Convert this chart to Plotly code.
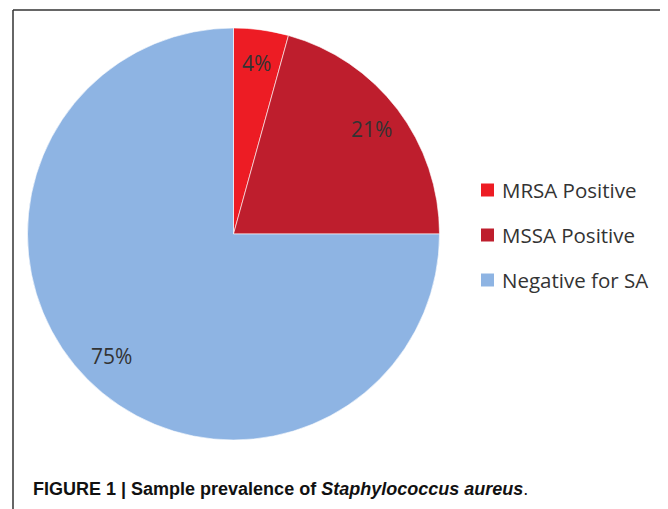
import math
import plotly.graph_objects as go

categories = ["MRSA Positive", "MSSA Positive", "Negative for SA"]
values = [4.3, 20.7, 75.0]
colors = ["#ED1C24", "#BE1E2D", "#8EB4E3"]

# page body has an 8px margin; work in window pixels and convert
OFF = 8
W, H = 668 - OFF, 509 - OFF


def px_x(x):
    return (x - OFF) / W


def px_y(y):
    return 1 - (y - OFF) / H


cx, cy, R = 233.5, 234.0, 206.0

fig = go.Figure()
fig.add_trace(go.Pie(
    labels=categories, values=values, sort=False, direction="clockwise",
    rotation=0, marker=dict(colors=colors, line=dict(color="white", width=0.6)),
    textinfo="none", hoverinfo="label+percent", showlegend=False,
    domain=dict(x=[px_x(cx - R), px_x(cx + R)], y=[px_y(cy + R), px_y(cy - R)]),
))

annotations = []
total = sum(values)
cum = 0.0
for v in values:
    mid = (cum + v / 2) / total * 2 * math.pi
    cum += v
    r = 0.84 * R
    x = cx + r * math.sin(mid)
    y = cy - r * math.cos(mid)
    annotations.append(dict(
        x=px_x(x), y=px_y(y), xref="paper", yref="paper", showarrow=False,
        text=f"{round(v / total * 100)}%", font=dict(family="Open Sans", size=21, color="#333333"),
        xanchor="center", yanchor="middle"))

shapes = []
for i, (cat, col) in enumerate(zip(categories, colors)):
    yc = 190 + 45 * i
    shapes.append(dict(type="rect", xref="paper", yref="paper",
                       x0=px_x(481), x1=px_x(494), y0=px_y(yc + 6.5), y1=px_y(yc - 6.5),
                       fillcolor=col, line=dict(width=0)))
    annotations.append(dict(x=px_x(500), y=px_y(yc), xref="paper", yref="paper", showarrow=False,
                            text=cat, xanchor="left", yanchor="middle",
                            font=dict(family="Open Sans", size=20.5, color="#333333")))

# frame
shapes.append(dict(type="line", xref="paper", yref="paper", x0=px_x(13), x1=px_x(13), y0=0, y1=px_y(10),
                   line=dict(color="#333333", width=1.5)))
shapes.append(dict(type="line", xref="paper", yref="paper", x0=px_x(13), x1=1, y0=px_y(10), y1=px_y(10),
                   line=dict(color="#333333", width=1.5)))

annotations.append(dict(
    x=px_x(31), y=px_y(489), xref="paper", yref="paper", showarrow=False, xanchor="left", yanchor="middle",
    text="<b>FIGURE 1 | Sample prevalence of <i>Staphylococcus aureus</i></b>.",
    font=dict(family="Liberation Sans Narrow, Arial Narrow, sans-serif", size=18, color="#111111")))

fig.update_layout(width=W, height=H, margin=dict(l=0, r=0, t=0, b=0),
                  paper_bgcolor="white", plot_bgcolor="white",
                  shapes=shapes, annotations=annotations)
fig.write_html("out.html")
